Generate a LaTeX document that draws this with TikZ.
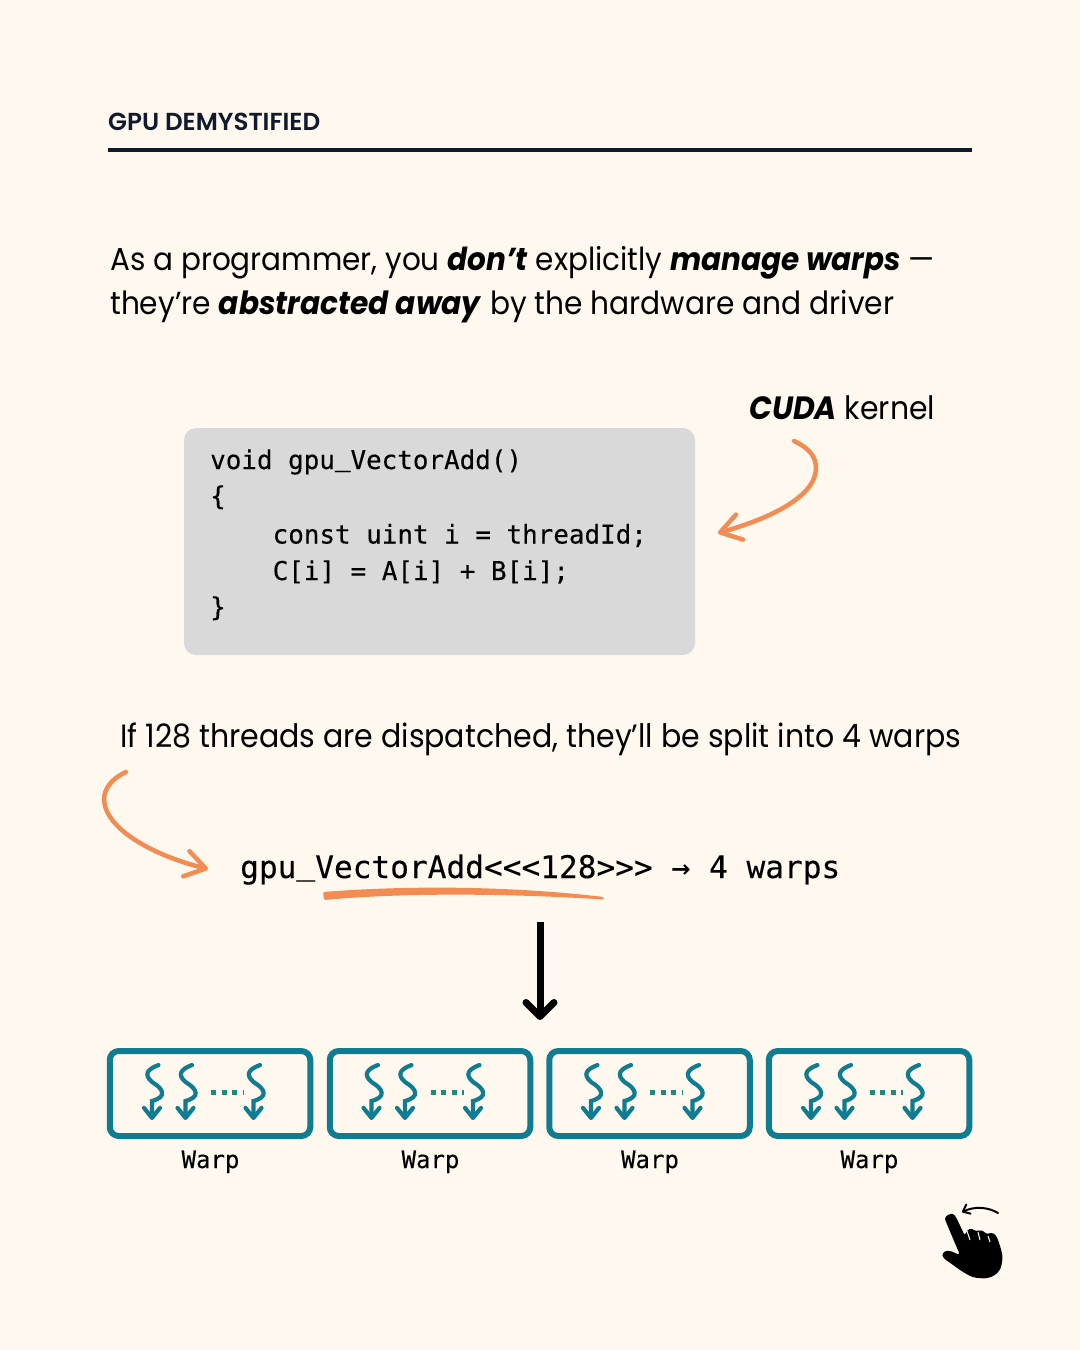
\documentclass[tikz,border=0pt]{standalone}
\usepackage{fontspec}
\usepackage{xcolor}
\setmainfont{Poppins}[FakeStretch=0.93]
\newfontfamily\headfont{Poppins SemiBold}
\newfontfamily\codefont{DejaVu Sans Mono}[FakeBold=0.25]
\usetikzlibrary{arrows.meta,positioning,shapes}
\definecolor{paper}{HTML}{FFF8EF}
\definecolor{ink}{HTML}{0F1B2D}
\definecolor{peach}{HTML}{F28C52}
\definecolor{teal1}{HTML}{0F7C92}
\definecolor{teal2}{HTML}{1F8A7A}
\definecolor{codegray}{HTML}{D9D9D9}
\newcommand{\usc}{\raisebox{.12em}{\_}}
\tikzset{
    bodytext/.style={anchor=base west,inner sep=0pt,text=black,font=\fontsize{#1}{38}\selectfont},
    codetext/.style={anchor=base west,inner sep=0pt,text=black,font=\codefont\fontsize{25.9}{30}\selectfont},
    warpbox/.style={draw=teal1,line width=6pt,rounded corners=9pt,minimum width=200.5pt,minimum height=85pt,inner sep=0pt},
    warplabel/.style={inner sep=0pt,anchor=base,text=black,font=\codefont\fontsize{24}{28}\selectfont},
    peacharrow/.style={draw=peach,line width=4.5pt,line cap=round,-{Straight Barb[round,length=20pt,width=26pt]}},
    threads/.pic={
        \draw[teal1,line width=4.2pt,line cap=round,-{Straight Barb[round,length=10pt,width=16pt]}]
            (6.5,-27) .. controls (-4,-23) and (-9,-18) .. (0,-10) .. controls (12,-3) and (15,5) .. (0,9) -- (0,28);
    },
}
\begin{document}
\begin{tikzpicture}[x=1pt,y=-1pt]
    \useasboundingbox[fill=paper] (0,0) rectangle (1080,1350);

    % Header
    \node[anchor=base west,inner sep=0pt,text=ink,font=\headfont\fontsize{24.6}{28}\selectfont] (header) at (108,130) {GPU DEMYSTIFIED};
    \coordinate (ruleL) at (108,150);
    \coordinate (ruleR) at (972,150);
    \draw[ink,line width=4pt] (ruleL) -- (ruleR);

    % Intro
    \node[bodytext=31.7] (introA) at (110,270) {As a programmer, you \textbf{\textit{don’t}} explicitly \textbf{\textit{manage warps}} —};
    \node[bodytext=31.9] (introB) at (110,314) {they’re \textbf{\textit{abstracted away}} by the hardware and driver};

    % Kernel
    \node[bodytext=32.2] (cuda) at (749,419) {\textbf{\textit{CUDA}} kernel};
    \fill[codegray,rounded corners=12pt] (184,428) rectangle (695,655);
    \node[codetext] (codeA) at (210,469) {void gpu\usc VectorAdd()};
    \node[codetext] (codeB) at (210,505) {\{};
    \node[codetext] (codeC) at (272.5,543.5) {const uint i = threadId;};
    \node[codetext] (codeD) at (272.5,580) {C[i] = A[i] + B[i];};
    \node[codetext] (codeE) at (210,616) {\}};
    \coordinate (cudaStart) at (794,441);
    \coordinate (cudaEnd) at (718,533);
    \draw[peacharrow] (cudaStart) .. controls (811,449) and (816,458) .. (816,468) .. controls (816,498) and (765,520) .. (cudaEnd);

    % Dispatch
    \node[bodytext=32.25] (dispatch) at (120,747) {If 128 threads are dispatched, they’ll be split into 4 warps};
    \node[anchor=base west,inner sep=0pt,text=black,font=\codefont\fontsize{31.15}{36}\selectfont] (call) at (240,878) {gpu\usc VectorAdd<<<128>>> → 4 warps};
    \coordinate (callStart) at (126,772);
    \coordinate (callEnd) at (208,869);
    \draw[peacharrow] (callStart) .. controls (111,779) and (104,789) .. (104,800) .. controls (106,830) and (155,856) .. (callEnd);
    \fill[peach,rounded corners=2pt] (323,892) .. controls (400,886) and (500,885) .. (604,897) -- (604,899.5) .. controls (500,893) and (400,893) .. (324,900) -- cycle;

    % Down arrow
    \coordinate (downStart) at (540,922);
    \coordinate (downEnd) at (540,1020);
    \draw[black,line width=7pt,line cap=butt,-{Straight Barb[round,length=14pt,width=28pt]}] (downStart) -- (downEnd);

    % Warps
    \node[warpbox] (warpA) at (210,1093.5) {};
    \node[warpbox] (warpB) at (430,1093.5) {};
    \node[warpbox] (warpC) at (649.5,1093.5) {};
    \node[warpbox] (warpD) at (869,1093.5) {};
    \node[warplabel] (labelA) at (210.5,1168) {Warp};
    \node[warplabel] (labelB) at (430.5,1168) {Warp};
    \node[warplabel] (labelC) at (650,1168) {Warp};
    \node[warplabel] (labelD) at (869.5,1168) {Warp};

    % Threads
    \pic at (152,1092) {threads};
    \pic at (185.5,1092) {threads};
    \pic at (253.5,1092) {threads};
    \pic at (371.5,1092) {threads};
    \pic at (405,1092) {threads};
    \pic at (473,1092) {threads};
    \pic at (591,1092) {threads};
    \pic at (624.5,1092) {threads};
    \pic at (692.5,1092) {threads};
    \pic at (811,1092) {threads};
    \pic at (844.5,1092) {threads};
    \pic at (912.5,1092) {threads};
    \draw[teal2,line width=5pt,dash pattern=on 5pt off 5.5pt] (211,1092) -- (244,1092);
    \draw[teal2,line width=5pt,dash pattern=on 5pt off 5.5pt] (430.5,1092) -- (463.5,1092);
    \draw[teal2,line width=5pt,dash pattern=on 5pt off 5.5pt] (650,1092) -- (683,1092);
    \draw[teal2,line width=5pt,dash pattern=on 5pt off 5.5pt] (869.5,1092) -- (902.5,1092);

    % Hand
    \fill[black,rounded corners=3pt] (946,1222) .. controls (944,1216) and (952,1212) .. (956,1217)
        -- (965,1236) -- (967,1230) -- (972,1228) -- (976,1232) -- (979,1230) -- (984,1231) -- (987,1235)
        -- (991,1232) -- (996,1235) .. controls (1000,1245) and (1003,1255) .. (1002,1262)
        .. controls (1000,1274) and (990,1279) .. (979,1278) .. controls (968,1277) and (955,1266) .. (943,1258)
        -- (942,1253) -- (948,1250) -- (960,1255) -- cycle;
    \draw[paper,line width=1pt] (967,1231) -- (970,1240);
    \draw[paper,line width=1pt] (978,1232) -- (980,1240);
    \draw[paper,line width=1pt] (988,1236) -- (990,1242);
    \coordinate (swipeStart) at (998,1213);
    \coordinate (swipeEnd) at (962,1212);
    \draw[black,line width=2pt,line cap=round,-{Straight Barb[round,length=6pt,width=10pt]}] (swipeStart) .. controls (988,1207) and (975,1206) .. (swipeEnd);
\end{tikzpicture}
\end{document}
